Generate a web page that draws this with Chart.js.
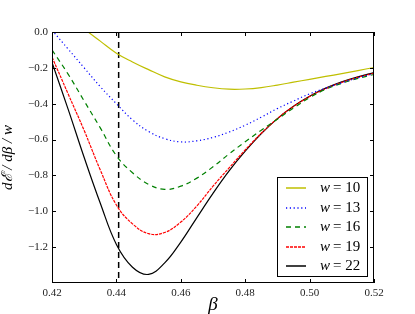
<!DOCTYPE html>
<html>
<head>
<meta charset="utf-8">
<script src="https://cdn.jsdelivr.net/npm/chart.js@4.4.1/dist/chart.umd.min.js"></script>
<style>
  html, body { margin: 0; padding: 0; background: #fff; }
  #wrap { width: 415px; height: 314px; }
</style>
</head>
<body>
<div id="wrap"><canvas id="chart" width="415" height="314"></canvas></div>
<script>
// data
const betas  = [0.420, 0.425, 0.430, 0.435, 0.440, 0.445, 0.450, 0.455, 0.460, 0.465, 0.470,
                0.475, 0.480, 0.485, 0.490, 0.495, 0.500, 0.505, 0.510, 0.515, 0.520];
const w10 = [0.17, 0.09, 0.017, -0.051, -0.118, -0.167, -0.21, -0.25, -0.278, -0.297, -0.311,
             -0.319, -0.318, -0.31, -0.296, -0.28, -0.264, -0.248, -0.232, -0.215, -0.198];
const w13 = [0.01, -0.095, -0.20, -0.305, -0.40, -0.49, -0.555, -0.595, -0.613, -0.607, -0.588,
             -0.558, -0.52, -0.475, -0.427, -0.385, -0.345, -0.313, -0.283, -0.256, -0.232];
const w16 = [-0.10, -0.235, -0.385, -0.535, -0.69, -0.785, -0.85, -0.878, -0.86, -0.815, -0.752,
             -0.68, -0.612, -0.548, -0.486, -0.424, -0.366, -0.32, -0.286, -0.259, -0.237];
const w19 = [-0.14, -0.345, -0.55, -0.77, -0.965, -1.07, -1.125, -1.118, -1.06, -0.97, -0.86,
             -0.758, -0.658, -0.565, -0.483, -0.415, -0.36, -0.316, -0.281, -0.253, -0.23];
const w22 = [-0.17, -0.43, -0.70, -0.955, -1.185, -1.312, -1.352, -1.288, -1.172, -1.035, -0.9,
             -0.775, -0.665, -0.567, -0.483, -0.414, -0.358, -0.313, -0.278, -0.25, -0.227];
const widths = [10, 13, 16, 19, 22];
const betaC  = 0.4407;
const xTicks = [0.42, 0.44, 0.46, 0.48, 0.50, 0.52];
const yTicks = [0.0, -0.2, -0.4, -0.6, -0.8, -1.0, -1.2];
const xMin = 0.42, xMax = 0.52, yMin = -1.4, yMax = 0.0;

/* ── line styles ── */
const colors = ["#bfbf00", "#0000ff", "#008000", "#ff0000", "#000000"];
const dashes = [[], [1.2, 2.6], [5, 4], [3, 1], []];
const series = [w10, w13, w16, w19, w22];

const SERIF = "'Liberation Serif', 'DejaVu Serif', serif";

const datasets = series.map((s, i) => ({
  label: "w = " + widths[i],
  data: betas.map((b, j) => ({ x: b, y: s[j] })),
  borderColor: colors[i],
  borderWidth: 1.2,
  borderDash: dashes[i],
  pointRadius: 0,
  tension: 0.4,
  fill: false,
}));

// critical point marker
datasets.push({
  label: "",
  data: [{ x: betaC, y: yMax }, { x: betaC, y: yMin }],
  borderColor: "#000",
  borderWidth: 1.5,
  borderDash: [6, 4],
  pointRadius: 0,
  fill: false,
});

/* ── frame, inward ticks and legend box ── */
const framePlugin = {
  id: "frame",
  afterDraw(chart) {
    const { ctx, chartArea: a, scales } = chart;
    ctx.save();
    ctx.strokeStyle = "#000";
    ctx.lineWidth = 1;
    ctx.setLineDash([]);
    ctx.strokeRect(a.left + 0.5, a.top + 0.5, a.right - a.left - 1, a.bottom - a.top - 1);

    const L = 4;
    ctx.beginPath();
    xTicks.forEach(v => {
      const px = Math.round(scales.x.getPixelForValue(v)) + 0.5;
      ctx.moveTo(px, a.bottom); ctx.lineTo(px, a.bottom - L);
      ctx.moveTo(px, a.top);    ctx.lineTo(px, a.top + L);
    });
    yTicks.forEach(v => {
      const py = Math.round(scales.y.getPixelForValue(v)) + 0.5;
      ctx.moveTo(a.left, py);  ctx.lineTo(a.left + L, py);
      ctx.moveTo(a.right, py); ctx.lineTo(a.right - L, py);
    });
    ctx.stroke();

    // legend
    const bw = 90, bh = 99;
    const bx = Math.round(a.right - 7 - bw), by = Math.round(a.bottom - 7 - bh);
    ctx.fillStyle = "#fff";
    ctx.fillRect(bx, by, bw, bh);
    ctx.strokeStyle = "#000";
    ctx.strokeRect(bx + 0.5, by + 0.5, bw, bh);
    widths.forEach((w, i) => {
      const y = Math.round(by + 11 + i * 19.5);
      ctx.strokeStyle = colors[i];
      ctx.lineWidth = 1.5;
      ctx.setLineDash(dashes[i]);
      ctx.beginPath();
      ctx.moveTo(bx + 9, y); ctx.lineTo(bx + 29, y);
      ctx.stroke();
      ctx.setLineDash([]);
      ctx.fillStyle = "#000";
      ctx.textBaseline = "middle";
      ctx.font = "italic 15px " + SERIF;
      ctx.fillText("w", bx + 43, y);
      ctx.font = "15px " + SERIF;
      ctx.fillText("= " + w, bx + 56, y + 0.5);
    });
    ctx.restore();
  },
};

new Chart(document.getElementById("chart"), {
  type: "line",
  data: { datasets },
  options: {
    responsive: false,
    animation: false,
    layout: { padding: { top: 32, right: 41, left: 0, bottom: 0 } },
    plugins: { legend: { display: false }, tooltip: { enabled: false } },
    scales: {
      x: {
        type: "linear",
        min: xMin, max: xMax,
        afterBuildTicks: s => { s.ticks = xTicks.map(v => ({ value: v })); },
        afterFit: s => { s.height = 31; },
        grid: { display: false, drawTicks: false },
        border: { display: false },
        ticks: {
          color: "#222", padding: 4, maxRotation: 0,
          font: { family: SERIF, size: 11 },
          callback: v => v.toFixed(2),
        },
        title: {
          display: true, text: "β", color: "#000",
          font: { family: SERIF, size: 19, style: "italic", lineHeight: 1 },
          padding: { top: 0, bottom: 0 },
        },
      },
      y: {
        type: "linear",
        min: yMin, max: yMax,
        afterBuildTicks: s => { s.ticks = yTicks.map(v => ({ value: v })); },
        afterFit: s => { s.width = 52; },
        grid: { display: false, drawTicks: false },
        border: { display: false },
        ticks: {
          color: "#222", padding: 4,
          font: { family: SERIF, size: 11 },
          callback: v => (v < 0 ? "\u2212" : "") + Math.abs(v).toFixed(1),
        },
        title: {
          display: true, text: "dℰ / dβ / w", color: "#000",
          font: { family: SERIF, size: 15, style: "italic", lineHeight: 1 },
          padding: { top: 1, bottom: 0 },
        },
      },
    },
  },
  plugins: [framePlugin],
});
</script>
</body>
</html>
